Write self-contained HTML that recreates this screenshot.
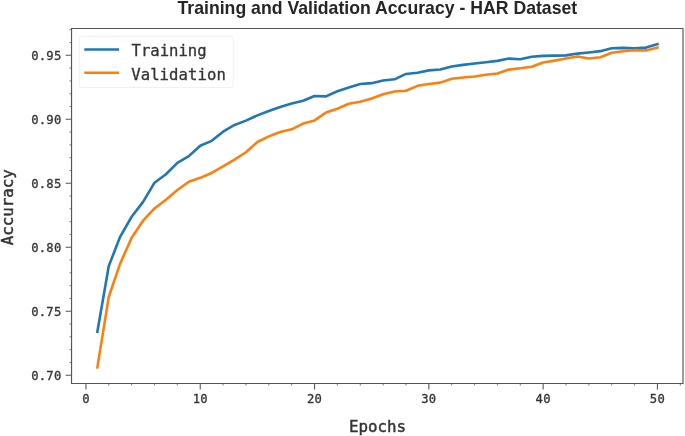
<!DOCTYPE html>
<html lang="en"><head><meta charset="utf-8"><title>Training and Validation Accuracy - HAR Dataset</title>
<style>html,body{margin:0;padding:0;background:#fff}svg{display:block}.m{font-family:"DejaVu Sans Mono","Liberation Mono",monospace;fill:#333333;stroke:#333333;stroke-width:0.3px}.t{font-family:"Liberation Sans",sans-serif;font-weight:bold;fill:#262626}</style></head><body>
<svg width="685" height="436" viewBox="0 0 685 436">
<rect width="685" height="436" fill="#ffffff"/>
<text class="t" x="377.35" y="14.3" font-size="17.66" text-anchor="middle">Training and Validation Accuracy - HAR Dataset</text>
<path d="M65.60 375.25H71.50M65.60 311.26H71.50M65.60 247.28H71.50M65.60 183.29H71.50M65.60 119.31H71.50M65.60 55.32H71.50M85.93 383.50V389.40M200.24 383.50V389.40M314.54 383.50V389.40M428.85 383.50V389.40M543.15 383.50V389.40M657.46 383.50V389.40" stroke="#5a5a5a" stroke-width="1.1" fill="none"/>
<path d="M69.50 362.45H71.50M69.50 349.66H71.50M69.50 336.86H71.50M69.50 324.06H71.50M69.50 298.47H71.50M69.50 285.67H71.50M69.50 272.87H71.50M69.50 260.08H71.50M69.50 234.48H71.50M69.50 221.69H71.50M69.50 208.89H71.50M69.50 196.09H71.50M69.50 170.50H71.50M69.50 157.70H71.50M69.50 144.90H71.50M69.50 132.11H71.50M69.50 106.51H71.50M69.50 93.72H71.50M69.50 80.92H71.50M69.50 68.12H71.50M69.50 42.53H71.50M69.50 29.73H71.50M108.79 383.50V385.50M131.65 383.50V385.50M154.51 383.50V385.50M177.37 383.50V385.50M223.10 383.50V385.50M245.96 383.50V385.50M268.82 383.50V385.50M291.68 383.50V385.50M337.40 383.50V385.50M360.26 383.50V385.50M383.13 383.50V385.50M405.99 383.50V385.50M451.71 383.50V385.50M474.57 383.50V385.50M497.43 383.50V385.50M520.29 383.50V385.50M566.02 383.50V385.50M588.88 383.50V385.50M611.74 383.50V385.50M634.60 383.50V385.50M680.32 383.50V385.50" stroke="#5a5a5a" stroke-width="0.8" fill="none"/>
<text class="m" x="61.5" y="379.80" font-size="12.2" letter-spacing="0.25" text-anchor="end">0.70</text>
<text class="m" x="61.5" y="315.81" font-size="12.2" letter-spacing="0.25" text-anchor="end">0.75</text>
<text class="m" x="61.5" y="251.83" font-size="12.2" letter-spacing="0.25" text-anchor="end">0.80</text>
<text class="m" x="61.5" y="187.84" font-size="12.2" letter-spacing="0.25" text-anchor="end">0.85</text>
<text class="m" x="61.5" y="123.86" font-size="12.2" letter-spacing="0.25" text-anchor="end">0.90</text>
<text class="m" x="61.5" y="59.87" font-size="12.2" letter-spacing="0.25" text-anchor="end">0.95</text>
<text class="m" x="85.93" y="402.8" font-size="12.2" letter-spacing="0.25" text-anchor="middle">0</text>
<text class="m" x="200.24" y="402.8" font-size="12.2" letter-spacing="0.25" text-anchor="middle">10</text>
<text class="m" x="314.54" y="402.8" font-size="12.2" letter-spacing="0.25" text-anchor="middle">20</text>
<text class="m" x="428.85" y="402.8" font-size="12.2" letter-spacing="0.25" text-anchor="middle">30</text>
<text class="m" x="543.15" y="402.8" font-size="12.2" letter-spacing="0.25" text-anchor="middle">40</text>
<text class="m" x="657.46" y="402.8" font-size="12.2" letter-spacing="0.25" text-anchor="middle">50</text>
<text class="m" x="377.5" y="431.7" font-size="15.85" style="stroke-width:0.45px" text-anchor="middle">Epochs</text>
<text class="m" transform="translate(13 207.3) rotate(-90)" font-size="15.8" style="stroke-width:0.45px" text-anchor="middle">Accuracy</text>
<clipPath id="c"><rect x="71.5" y="28.5" width="611.5" height="355.0"/></clipPath>
<polyline clip-path="url(#c)" points="97.36,331.78 108.79,266.01 120.22,236.58 131.65,216.74 143.08,201.90 154.51,182.70 165.94,174.26 177.37,162.87 188.81,156.09 200.24,145.72 211.67,140.86 223.10,131.65 234.53,124.99 245.96,120.64 257.39,115.40 268.82,111.05 280.25,106.95 291.68,103.50 303.11,100.81 314.54,95.95 325.97,96.33 337.40,91.21 348.83,87.50 360.26,84.05 371.69,83.15 383.13,80.46 394.56,79.31 405.99,73.94 417.42,72.79 428.85,70.36 440.28,69.46 451.71,66.52 463.14,64.85 474.57,63.45 486.00,62.17 497.43,60.89 508.86,58.58 520.29,59.22 531.72,56.79 543.15,55.90 554.58,55.64 566.02,55.38 577.45,53.59 588.88,52.44 600.31,51.16 611.74,48.22 623.17,47.83 634.60,48.22 646.03,47.58 657.46,44.12" fill="none" stroke="#1f77b4" stroke-width="2.6" stroke-linejoin="round" stroke-linecap="square"/>
<polyline clip-path="url(#c)" points="97.36,367.35 108.79,296.72 120.22,263.45 131.65,237.73 143.08,220.71 154.51,208.42 165.94,199.72 177.37,190.00 188.81,181.81 200.24,177.84 211.67,172.98 223.10,166.45 234.53,159.67 245.96,152.25 257.39,142.01 268.82,136.38 280.25,132.03 291.68,129.34 303.11,123.59 314.54,120.39 325.97,112.58 337.40,108.74 348.83,103.75 360.26,101.71 371.69,98.51 383.13,94.16 394.56,91.47 405.99,90.70 417.42,85.84 428.85,84.05 440.28,82.64 451.71,78.80 463.14,77.52 474.57,76.50 486.00,74.83 497.43,73.55 508.86,69.59 520.29,68.18 531.72,66.77 543.15,62.55 554.58,60.63 566.02,58.45 577.45,56.41 588.88,58.45 600.31,57.30 611.74,52.70 623.17,51.29 634.60,50.14 646.03,50.39 657.46,47.58" fill="none" stroke="#ff7f0e" stroke-width="2.6" stroke-linejoin="round" stroke-linecap="square"/>
<path d="M71.53 28V384M683 28V384M71 28.5H683.5M71 383.5H683.5" fill="none" stroke="#555555" stroke-width="1.15"/>
<rect x="79.2" y="36.3" width="154" height="51.3" rx="3" ry="3" fill="#ffffff" fill-opacity="0.8" stroke="#f0f0f0" stroke-width="1"/>
<path d="M84.3 49.57H119.1" stroke="#1f77b4" stroke-width="2.6"/>
<path d="M84.3 72.7H119.1" stroke="#ff7f0e" stroke-width="2.6"/>
<text class="m" x="131.5" y="55.9" font-size="15.6">Training</text>
<text class="m" x="131.2" y="79.5" font-size="15.6" letter-spacing="0.09">Validation</text>
</svg></body></html>
